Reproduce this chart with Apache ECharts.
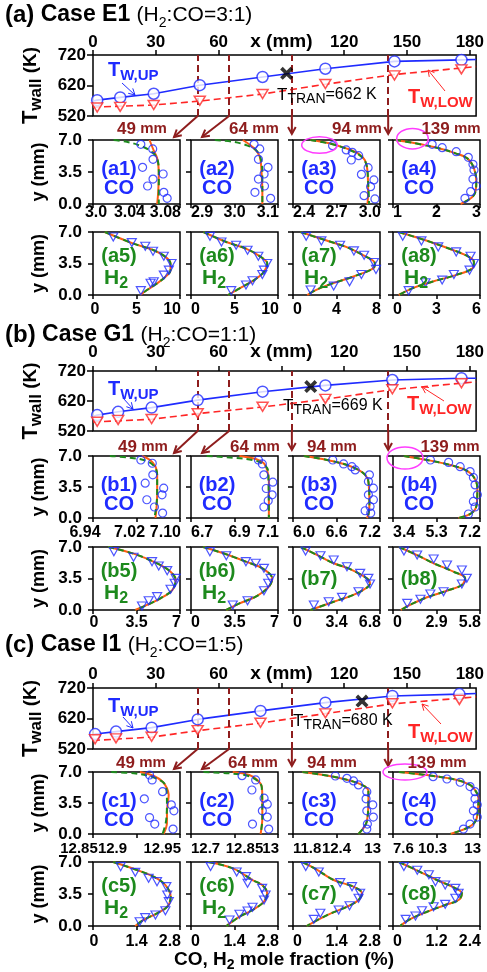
<!DOCTYPE html>
<html><head><meta charset="utf-8">
<script src="https://cdn.jsdelivr.net/npm/echarts@6/dist/echarts.min.js"></script>
<style>html,body{margin:0;padding:0;background:#fff}#c{width:487px;height:972px}</style>
</head><body><div id="c"></div>
<script>
// ================= DATA =================
const wallTicks = [0,30,60,90,120,150,180];
const wallTempTicks = [520,620,720];
const sliceX = [50,65,95,141];
const sliceLabels = ['49mm','64mm','94mm','139mm'];
const yTicks = [0,3.5,7];
const yTickLabels = ['0.0','3.5','7.0'];

// ---- (a) Case E1 wall temperature ----
const aUpX = [2,13,29,51,81,111,144,176];
const aUpT = [572,581,593,621,648,675,699,704];
const aUpLine = [[0,569],[2,572],[13,581],[29,593],[51,621],[81,648],[111,675],[144,699],[176,704],[183,705]];
const aLowX = [2,13,29,51,81,111,144,176];
const aLowT = [548,550,556,570,592,625,653,673];
const aLowLine = [[0,549],[29,556],[51,569],[81,592],[111,624],[144,656],[183,682]];
const aTran = [92.5,660];
// ---- (b) Case G1 ----
const bUpX = [2,12,28,50,81,111,143,176];
const bUpT = [573,584,598,623,651,672,690,696];
const bUpLine = [[0,568],[2,573],[12,584],[28,598],[50,623],[81,651],[111,672],[143,690],[176,696],[183,696]];
const bLowX = [2,12,28,50,81,111,143,176];
const bLowT = [551,557,560,579,601,627,659,679];
const bLowLine = [[0,550],[28,559],[50,578],[81,600],[111,626],[143,658],[183,684]];
const bTran = [104,668];
// ---- (c) Case I1 ----
const cUpX = [1,11,28,50,80,111,143,175];
const cUpT = [569,577,590,617,645,672,694,700];
const cUpLine = [[0,565],[1,569],[11,577],[28,590],[50,617],[80,645],[111,672],[143,694],[175,700],[183,702]];
const cLowX = [1,11,28,50,80,111,143,175];
const cLowT = [552,555,560,582,606,637,670,681];
const cLowLine = [[0,548],[28,559],[50,580],[80,605],[111,636],[143,668],[183,691]];
const cTran = [128.5,677];

// ---- profile tick labels ----
const a1Ticks=['3.0','3.04','3.08'], a2Ticks=['2.9','3.0','3.1'], a3Ticks=['2.4','2.7','3.0'], a4Ticks=['1','2','3'];
const a5Ticks=['0','5','10'], a6Ticks=['0','5','10'], a7Ticks=['0','4','8'], a8Ticks=['0','3','6'];
const b1Ticks=['6.94','7.02','7.10'], b2Ticks=['6.7','6.9','7.1'], b3Ticks=['6.0','6.6','7.2'], b4Ticks=['3.4','5.3','7.2'];
const b5Ticks=['0','3.5','7'], b6Ticks=['0','3.5','7'], b7Ticks=['0','3.4','6.8'], b8Ticks=['0','2.9','5.8'];
const c1Ticks=['12.85','12.9','12.95'], c2Ticks=['12.7','12.85','13'], c3Ticks=['11.8','12.4','13'], c4Ticks=['7.6','10.3','13'];
const c5Ticks=['0','1.4','2.8'], c6Ticks=['0','1.4','2.8'], c7Ticks=['0','1.4','2.8'], c8Ticks=['0','1.2','2.4'];

// ---- (a) profiles: [mole fraction %, y mm] ----
const a1Model=[[3.052,7],[3.056,5.8],[3.059,5.0],[3.0605,3.5],[3.060,1.4],[3.059,0]];
const a1Green=[[3.019,7],[3.031,6.8],[3.043,6.4],[3.054,5.7],[3.059,5.0],[3.0605,3.5],[3.0605,0]];
const a1Pts=[[3.044,6.53],[3.0549,6.02],[3.0552,4.89],[3.0456,4.01],[3.0645,3.28],[3.0552,2.73],[3.0502,1.97],[3.0651,1.28],[3.0682,0.62]];
const a2Model=[[3.019,7],[3.045,6.09],[3.058,5.18],[3.062,3.54],[3.064,1.35],[3.064,0]];
const a2Green=[[2.955,7],[2.996,6.82],[3.026,6.45],[3.049,5.91],[3.060,4.99],[3.064,3.54],[3.064,0]];
const a2Pts=[[3.045,6.53],[3.058,6.02],[3.055,4.89],[3.077,4.01],[3.068,3.28],[3.055,2.73],[3.069,1.97],[3.047,1.28],[3.083,0.62]];
const a3Model=[[2.521,7],[2.650,6.64],[2.767,6.09],[2.848,5.54],[2.895,4.81],[2.914,3.54],[2.918,1.35],[2.914,0]];
const a3Green=[[2.521,7],[2.673,6.53],[2.790,5.91],[2.872,5.18],[2.907,4.27],[2.918,2.44],[2.925,0]];
const a3Pts=[[2.673,6.38],[2.767,5.91],[2.809,5.65],[2.853,5.29],[2.802,4.81],[2.918,3.97],[2.872,3.24],[2.958,2.63],[2.935,1.90],[2.890,0.91],[2.965,0.55]];
const a4Model=[[1.054,7],[1.515,6.64],[2.054,6.09],[2.438,5.54],[2.708,4.99],[2.862,3.90],[2.915,2.44],[2.862,0.98],[2.554,0]];
const a4Pts=[[1.900,6.53],[2.131,6.16],[2.454,5.72],[2.731,5.10],[2.838,4.34],[2.862,3.72],[2.838,2.73],[2.915,1.97],[2.785,1.35],[2.654,0.62]];
const a5Model=[[1.36,7],[4.65,5.71],[6.98,4.97],[8.33,4.24],[8.91,3.5],[8.91,2.76],[8.33,2.03],[7.36,1.29],[6.20,0.55],[5.43,0]];
const a5Pts=[[2.33,6.45],[4.46,5.82],[6.01,5.42],[6.90,4.86],[8.14,4.31],[9.03,3.5],[8.72,2.76],[8.14,2.21],[6.98,1.47],[6.62,1.30],[5.50,0.48]];
const a6Model=[[1.43,7],[4.06,5.89],[6.32,5.16],[8.01,4.24],[8.76,3.5],[8.38,2.58],[7.26,1.66],[5.94,0.92],[4.25,0]];
const a6Pts=[[2.18,6.52],[3.50,5.89],[5.19,5.53],[6.50,4.97],[7.74,4.31],[8.76,3.5],[8.38,2.76],[8.20,2.28],[7.07,1.58],[6.32,1.11],[4.62,0.48]];
const a7Model=[[0.68,7],[3.02,6.08],[4.89,5.34],[6.44,4.42],[7.53,3.5],[7.38,2.95],[5.51,2.03],[3.64,1.29],[2.09,0.55],[1.31,0]];
const a7Pts=[[1.21,6.52],[2.61,6.01],[4.33,5.53],[5.60,4.90],[6.54,4.42],[7.44,3.61],[7.63,2.84],[6.29,2.28],[5.20,1.47],[3.74,0.99],[1.62,0.55]];
const a8Model=[[0.39,7],[2.24,6.08],[3.85,5.16],[5.01,4.42],[5.58,3.68],[5.47,2.95],[4.32,2.21],[2.70,1.47],[1.32,0.74],[0.39,0]];
const a8Pts=[[0.67,6.52],[1.96,6.01],[3.12,5.34],[4.36,4.79],[5.35,4.31],[5.58,3.5],[5.28,2.76],[4.20,2.28],[3.39,1.66],[2.24,1.36],[1.08,0.48]];
// ---- (b) profiles ----
const b1Model=[[7.030,7],[7.045,6.55],[7.055,5.80],[7.058,4.87],[7.058,2.62],[7.055,0]];
const b1Green=[[6.971,7],[7.008,6.81],[7.039,6.44],[7.053,5.80],[7.058,4.87],[7.058,2.62],[7.053,0]];
const b1Pts=[[7.028,6.55],[7.049,6.18],[7.050,4.87],[7.036,3.93],[7.070,3.37],[7.067,2.62],[7.039,2.06],[7.053,1.24],[7.068,0.56]];
const b2Model=[[6.923,7],[6.998,6.66],[7.035,6.18],[7.050,5.43],[7.058,4.12],[7.058,0]];
const b2Green=[[6.772,7],[6.892,6.81],[6.983,6.55],[7.035,6.07],[7.055,5.24],[7.058,0]];
const b2Pts=[[7.010,6.55],[7.028,6.10],[7.035,4.87],[7.076,4.04],[7.046,3.33],[7.073,2.62],[7.055,1.95],[7.035,1.24]];
const b3Model=[[6.151,7],[6.470,6.55],[6.744,5.99],[6.903,5.43],[6.995,4.87],[7.040,4.12],[7.054,1.50],[7.040,0.37],[7.017,0]];
const b3Pts=[[6.548,6.55],[6.698,6.10],[6.812,5.80],[6.858,5.43],[7.054,4.87],[7.040,4.12],[7.109,3.37],[7.040,2.62],[7.109,2.06],[7.063,1.31],[6.995,0.82],[7.072,0.56]];
const b4Model=[[3.877,7],[4.888,6.55],[5.900,5.99],[6.550,5.43],[6.911,4.68],[7.085,3.37],[7.056,1.50],[6.839,0.56],[6.261,0]];
const b4Pts=[[5.033,6.55],[5.828,6.28],[6.333,5.80],[6.767,5.24],[6.911,4.57],[6.984,3.74],[7.085,2.62],[6.911,1.87],[6.984,1.24],[6.695,0.45]];
const b5Model=[[1.22,7],[3.26,6.26],[5.16,5.18],[6.24,4.26],[6.65,3.34],[6.38,2.22],[5.43,1.30],[4.35,0.56],[3.39,0]];
const b5Pts=[[1.68,6.48],[3.26,5.86],[4.75,5.37],[5.29,4.89],[5.97,4.37],[6.65,3.52],[6.57,2.97],[6.24,2.30],[5.16,1.48],[4.48,1.03],[3.94,0.44]];
const b6Model=[[0.97,7],[2.6,6.3],[4.42,5.37],[5.74,4.63],[6.53,3.52],[6.27,2.59],[5.21,1.48],[3.90,0.74],[2.84,0]];
const b6Pts=[[1.52,6.48],[2.84,6.03],[4.42,5.37],[5.21,5.19],[5.87,4.63],[6.40,3.52],[6.21,2.97],[5.87,2.14],[4.55,1.03],[3.36,0.56]];
const b7Model=[[0.60,7],[1.9,6.1],[3.18,5.19],[4.34,4.63],[5.77,3.52],[6.02,2.97],[4.99,1.85],[3.18,0.92],[1.37,0]];
const b7Pts=[[0.98,6.56],[2.15,6.03],[3.18,5.56],[4.22,4.81],[5.25,4.07],[5.89,3.52],[6.02,2.89],[5.12,2.03],[3.83,1.41],[2.79,0.92],[1.63,0.56]];
const b8Model=[[0.40,7],[1.6,6.1],[2.71,5.19],[4.03,4.26],[4.81,3.52],[4.59,2.78],[3.60,2.14],[2.27,1.41],[1.3,0.7],[0.51,0]];
const b8Pts=[[0.73,6.56],[1.61,6.11],[2.71,5.67],[3.60,5.00],[4.59,4.44],[4.92,3.52],[4.59,2.89],[3.37,2.03],[2.49,1.78],[1.83,1.19],[0.95,0.74]];
// ---- (c) profiles ----
const c1Model=[[12.904,7],[12.920,6.55],[12.930,5.91],[12.935,5.17],[12.937,4.42],[12.935,2.54],[12.935,1.24],[12.931,0]];
const c1Green=[[12.871,7],[12.897,6.85],[12.914,6.55],[12.928,6.02],[12.934,5.35],[12.935,3.6],[12.934,1.47],[12.930,0]];
const c1Pts=[[12.915,6.66],[12.918,6.10],[12.930,4.78],[12.909,3.97],[12.940,3.29],[12.943,2.62],[12.915,1.86],[12.921,1.12],[12.942,0.56]];
const c2Model=[[12.844,7],[12.901,6.66],[12.929,6.10],[12.944,5.35],[12.946,4.05],[12.946,1.80],[12.940,0]];
const c2Green=[[12.743,7],[12.833,6.85],[12.895,6.58],[12.929,6.02],[12.944,5.28],[12.946,1.80],[12.940,0]];
const c2Pts=[[12.876,6.58],[12.923,6.10],[12.910,4.97],[12.952,4.05],[12.963,3.37],[12.946,2.62],[12.963,1.91],[12.912,1.12],[12.968,0.56]];
const c3Model=[[11.929,7],[12.361,6.47],[12.635,5.91],[12.795,5.35],[12.840,4.78],[12.840,4.05],[12.818,1.41],[12.703,0]];
const c3Pts=[[12.384,6.55],[12.544,6.29],[12.635,5.99],[12.703,5.54],[12.818,4.78],[12.808,3.97],[12.900,3.29],[12.818,2.62],[12.908,1.91],[12.826,1.12],[12.818,0.56]];
const c4Model=[[7.97,7],[10.12,6.55],[11.57,6.10],[12.38,5.54],[12.69,4.97],[12.90,4.05],[12.80,1.80],[12.38,0.85],[11.15,0]];
const c4Pts=[[10.09,6.47],[10.95,6.21],[11.77,5.84],[12.38,5.35],[12.69,4.78],[12.69,3.97],[12.83,3.29],[12.59,2.62],[12.83,1.91],[12.38,1.12],[11.97,0.56]];
const c5Model=[[0.65,7],[1.41,6.13],[1.95,5.39],[2.33,4.48],[2.50,3.21],[2.39,2.11],[2.06,1.39],[1.63,0.66],[1.36,0]];
const c5Pts=[[0.89,6.49],[1.36,5.87],[1.79,5.22],[2.06,4.85],[2.36,4.30],[2.39,3.39],[2.44,2.66],[2.33,1.67],[2.01,1.20],[1.68,0.91],[1.50,0.47]];
const c6Model=[[0.56,7],[1.35,6.3],[1.98,5.03],[2.29,4.48],[2.45,3.58],[2.35,2.66],[1.98,1.75],[1.56,1.02],[1.14,0]];
const c6Pts=[[0.63,6.5],[1.47,5.9],[1.77,5.4],[1.82,4.67],[2.29,4.12],[2.40,3.39],[2.35,2.84],[1.98,2.05],[1.82,1.64],[1.56,1.28],[1.24,0.66]];
const c7Model=[[0.30,7],[0.75,6.2],[1.31,5.03],[1.95,4.30],[2.22,3.58],[2.11,2.84],[1.74,2.11],[1.10,1.20],[0.44,0]];
const c7Pts=[[0.41,6.5],[0.83,5.9],[1.52,4.74],[1.90,4.30],[2.16,3.58],[2.11,3.03],[1.82,2.22],[1.47,1.75],[0.88,1.39],[0.67,0.73]];
const c8Model=[[0.16,7],[0.6,6.2],[1.21,5.03],[1.63,4.30],[1.90,3.58],[1.81,2.84],[1.44,2.30],[0.94,1.56],[0.45,0.7],[0.2,0]];
const c8Pts=[[0.30,6.5],[0.67,6.1],[0.99,5.6],[1.17,4.85],[1.44,4.48],[1.72,4.12],[1.81,3.58],[1.72,3.03],[1.44,2.37],[1.12,2.11],[0.80,1.67],[0.62,1.09],[0.35,0.73]];

// ================= LAYOUT / STYLE =================
const FF = '"Liberation Sans", Arial, Helvetica, sans-serif';
const COL = {blue:'#1f2bff', red:'#ff2626', dred:'#8e1d1d', green:'#1d8a1d', orange:'#ff5c14', mag:'#ff3cff', black:'#000'};
const colLeft = [93,191,293,393], colW = 87;
const zip = (xs, ys) => xs.map((x,i)=>[x, ys[i]]);

const SECTIONS = [
 {tag:'a', caseName:'Case E1', ratio:'3:1', titleY:15, top:55, h:61, xMargin:4, tran:'662',
  up:aUpLine, upPts:zip(aUpX,aUpT), low:aLowLine, lowPts:zip(aLowX,aLowT), cross:aTran,
  rowCO:[140,64], rowH2:[232,63], labOff:[9,15], labFs:[16,16], minOff0:[3,2],
  txtUp:[108,70], txtTran:[277,95], txtLow:[408,97],
  arUp:[[122,83],[135,95]], arLow:[[445,91],[428,70]],
  mmY:129, mmX:[142,254,357,451],
  midShift:[-7,0,0,0,0,0,0,0],
  panels:[[a1Ticks,a1Model,a1Green,a1Pts],[a2Ticks,a2Model,a2Green,a2Pts],[a3Ticks,a3Model,a3Green,a3Pts],[a4Ticks,a4Model,null,a4Pts],
          [a5Ticks,a5Model,null,a5Pts],[a6Ticks,a6Model,null,a6Pts],[a7Ticks,a7Model,null,a7Pts],[a8Ticks,a8Model,null,a8Pts]],
  h2Label:[true,true,true,true],
  ellipses:[[319.5,145,17.8,8.3],[412.5,138.7,15.8,10.3]]},
 {tag:'b', caseName:'Case G1', ratio:'1:1', titleY:335, top:371, h:60, xMargin:10, tran:'669',
  up:bUpLine, upPts:zip(bUpX,bUpT), low:bLowLine, lowPts:zip(bLowX,bLowT), cross:bTran,
  rowCO:[456,62], rowH2:[547,63], labOff:[15,13], labFs:[16,16], minOff0:[-8,1],
  txtUp:[108,389], txtTran:[283,406], txtLow:[407,404],
  arUp:[[123,398],[133,409]], arLow:[[444,401],[422,387]],
  mmY:447, mmX:[143,255,332,450],
  midShift:[-7,5,0,0,0,0,0,0],
  panels:[[b1Ticks,b1Model,b1Green,b1Pts],[b2Ticks,b2Model,b2Green,b2Pts],[b3Ticks,b3Model,null,b3Pts],[b4Ticks,b4Model,null,b4Pts],
          [b5Ticks,b5Model,null,b5Pts],[b6Ticks,b6Model,null,b6Pts],[b7Ticks,b7Model,null,b7Pts],[b8Ticks,b8Model,null,b8Pts]],
  h2Label:[true,true,false,false],
  ellipses:[[405,458,18,11]]},
 {tag:'c', caseName:'Case I1', ratio:'1:5', titleY:645, top:688, h:61, xMargin:5, tran:'680',
  up:cUpLine, upPts:zip(cUpX,cUpT), low:cLowLine, lowPts:zip(cLowX,cLowT), cross:cTran,
  rowCO:[772,62], rowH2:[862,64], labOff:[15,16], labFs:[15,16], minOff0:[-14,1],
  txtUp:[108,706], txtTran:[293,721], txtLow:[408,732],
  arUp:[[123,717],[133,728]], arLow:[[441,724],[422,704]],
  mmY:763, mmX:[141,253,332,437],
  midShift:[-24,10,0,-4,0,0,0,0],
  panels:[[c1Ticks,c1Model,c1Green,c1Pts],[c2Ticks,c2Model,c2Green,c2Pts],[c3Ticks,c3Model,null,c3Pts],[c4Ticks,c4Model,null,c4Pts],
          [c5Ticks,c5Model,null,c5Pts],[c6Ticks,c6Model,null,c6Pts],[c7Ticks,c7Model,null,c7Pts],[c8Ticks,c8Model,null,c8Pts]],
  h2Label:[true,true,false,false],
  ellipses:[[405,772,22,8]]}
];

const grids=[], xAxes=[], yAxes=[], series=[], panelInfo=[];
const lab = (o)=>Object.assign({fontFamily:FF, fontWeight:'bold', fontSize:16, color:'#000', hideOverlap:false, showMinLabel:true, showMaxLabel:true}, o);
function addGrid(left, top, width, height){
  grids.push({left, top, width, height, show:true, borderColor:'#000', borderWidth:1.5, backgroundColor:'transparent', containLabel:false});
  return grids.length-1;
}
function nearestIdx(vals, v){ let bi=0,bd=1e9; vals.forEach((t,i)=>{const d=Math.abs(t-v); if(d<bd){bd=d;bi=i;}}); return bi; }

SECTIONS.forEach(s=>{
  const gi = addGrid(93, s.top, 390, s.h);
  s.gTop = gi;
  xAxes.push({gridIndex:gi, type:'value', position:'top', min:0, max:183,
    axisLine:{show:false}, splitLine:{show:false},
    axisTick:{show:true, customValues:wallTicks, length:5, lineStyle:{color:'#000', width:1.5}},
    axisLabel:lab({customValues:wallTicks, fontSize:17, margin:s.xMargin,
      formatter:v=> v===90 ? '{m|x (mm)}' : String(v), rich:{m:{fontFamily:FF, fontWeight:'bold', fontSize:19, color:'#000'}}})});
  yAxes.push({gridIndex:gi, type:'value', min:520, max:720,
    axisLine:{show:false}, splitLine:{show:false},
    axisTick:{show:true, customValues:wallTempTicks, length:6, lineStyle:{color:'#000', width:1.5}},
    axisLabel:lab({customValues:wallTempTicks, fontSize:17, margin:7})});
  series.push({type:'line', xAxisIndex:gi, yAxisIndex:gi, data:s.up, symbol:'none', silent:true,
    lineStyle:{color:COL.blue, width:1.6}, z:3});
  series.push({type:'line', xAxisIndex:gi, yAxisIndex:gi, data:s.low, symbol:'none', silent:true,
    lineStyle:{color:COL.red, width:1.6, type:[7,4]}, z:3,
    markLine:{silent:true, symbol:['none','none'], label:{show:false}, animation:false,
      lineStyle:{color:COL.dred, width:2, type:[7,4]}, data:sliceX.map(v=>({xAxis:v}))}});
  series.push({type:'scatter', xAxisIndex:gi, yAxisIndex:gi, data:s.upPts, symbol:'circle', symbolSize:11, silent:true,
    itemStyle:{color:'#fff', borderColor:COL.blue, borderWidth:1.5}, z:5});
  series.push({type:'scatter', xAxisIndex:gi, yAxisIndex:gi, data:s.lowPts, symbol:'triangle', symbolRotate:180, symbolSize:[11,9], silent:true,
    itemStyle:{color:'#fff', borderColor:COL.red, borderWidth:1.5}, z:5});
  series.push({type:'scatter', xAxisIndex:gi, yAxisIndex:gi, data:[s.cross], silent:true,
    symbol:'path://M2,0L5,3L8,0L10,2L7,5L10,8L8,10L5,7L2,10L0,8L3,5L0,2Z', symbolSize:13,
    itemStyle:{color:'#000'}, z:6});

  s.panels.forEach((p,k)=>{
    const [ticks, model, green, pts] = p;
    const col = k%4, isCO = k<4, ri = isCO ? 0 : 1;
    const row = isCO ? s.rowCO : s.rowH2;
    const g = addGrid(colLeft[col], row[0], colW, row[1]);
    const vals = ticks.map(Number);
    panelInfo.push({g, vals, ticks, col, bottom: row[0]+row[1], off: s.labOff[ri], fs: s.labFs[ri], sh: s.midShift[k], minOff: s.minOff0[ri]});
    xAxes.push({gridIndex:g, type:'value', min:vals[0], max:vals[vals.length-1],
      axisLine:{show:false}, splitLine:{show:false},
      axisTick:{show:true, customValues:vals, length:4, lineStyle:{color:'#000', width:1.5}},
      axisLabel:{show:false}});
    yAxes.push({gridIndex:g, type:'value', min:0, max:7,
      axisLine:{show:false}, splitLine:{show:false},
      axisTick:{show:true, customValues:yTicks, length:5, lineStyle:{color:'#000', width:1.5}},
      axisLabel:lab({show: col===0, customValues:yTicks, fontSize:17, margin:11,
        formatter:v=>yTickLabels[nearestIdx(yTicks, v)]})});
    series.push({type:'line', xAxisIndex:g, yAxisIndex:g, data:model, smooth:0.35, symbol:'none', silent:true,
      lineStyle:{color:COL.orange, width:2}, z:3});
    series.push({type:'line', xAxisIndex:g, yAxisIndex:g, data:green||model, smooth:0.35, symbol:'none', silent:true,
      lineStyle:{color:COL.green, width:2, type:[6,4]}, z:4});
    series.push({type:'scatter', xAxisIndex:g, yAxisIndex:g, data:pts, silent:true,
      symbol: isCO ? 'circle' : 'triangle', symbolRotate: isCO ? 0 : 180, symbolSize: isCO ? 8 : [9,8],
      itemStyle:{color:'rgba(255,255,255,0)', borderColor:COL.blue, borderWidth:1.2}, z:5});
  });
});

const chart = echarts.init(document.getElementById('c'));
chart.setOption({animation:false, grid:grids, xAxis:xAxes, yAxis:yAxes, series});

// ================= ANNOTATIONS =================
const gr = [];
function tok(size, weight, color, sub){
  return {fontSize:size, fontWeight:weight, fontFamily:FF, fill:color, color:color,
    lineHeight: sub ? size : size+6, verticalAlign: sub ? 'bottom' : 'middle'};
}
function rtext(x, y, text, rich, opt){
  return Object.assign({type:'text', x, y, silent:true, z:100,
    style:{text, rich, x:0, y:0, align:'left', verticalAlign:'middle', textAlign:'left', textVerticalAlign:'middle', fontFamily:FF}}, opt||{});
}
function ctext(x, y, text, rich, rot){
  const t = rtext(x, y, text, rich, rot ? {rotation:rot} : null);
  t.style.align='center'; t.style.textAlign='center';
  return t;
}
function arrow(p1, p2, color, w, head){
  const a = Math.atan2(p2[1]-p1[1], p2[0]-p1[0]), h=head, s=0.5;
  return [
    {type:'polyline', silent:true, z:90, shape:{points:[p1,p2]}, style:{stroke:color, lineWidth:w, fill:'none'}},
    {type:'polyline', silent:true, z:90, shape:{points:[[p2[0]-h*Math.cos(a-s), p2[1]-h*Math.sin(a-s)], p2, [p2[0]-h*Math.cos(a+s), p2[1]-h*Math.sin(a+s)]]},
      style:{stroke:color, lineWidth:w, fill:'none'}}
  ];
}

// profile x tick labels, placed at the axes' tick positions
panelInfo.forEach(info=>{
  const n = info.vals.length;
  info.vals.forEach((v,i)=>{
    const px = chart.convertToPixel({xAxisIndex:info.g, yAxisIndex:info.g}, [v, 0])[0];
    let x = px, align = 'center';
    if (i===0) { if (info.col===0) x = px + info.minOff; else align = 'left'; }
    else if (i===n-1) { align = 'right'; x = px + 1; }
    else x = px + info.sh;
    gr.push({type:'text', x, y: info.bottom + info.off, silent:true, z:100,
      style:{text: info.ticks[i], x:0, y:0, fontFamily:FF, fontWeight:'bold', fontSize:info.fs, fill:'#000',
        align, textAlign:align, verticalAlign:'middle', textVerticalAlign:'middle'}});
  });
});

SECTIONS.forEach(s=>{
  gr.push(rtext(5, s.titleY, '{p|('+s.tag+')}{c| '+s.caseName+' }{n|(H}{s|2}{n|:CO=' + s.ratio + ')}',
    {p:tok(24,'bold','#000'), c:tok(23,'bold','#000'), n:tok(21,'normal','#000'), s:tok(14,'normal','#000',true)}));
  gr.push(ctext(31, s.top + s.h/2, '{t|T}{s|wall}{k| (K)}',
    {t:tok(22,'bold','#000'), s:tok(17,'bold','#000',true), k:tok(19,'bold','#000')}, Math.PI/2));
  [s.rowCO, s.rowH2].forEach(r=>{
    gr.push(ctext(39, r[0] + r[1]/2, '{a|y (mm)}', {a:tok(18,'bold','#000')}, Math.PI/2));
  });
  gr.push(rtext(s.txtUp[0], s.txtUp[1], '{t|T}{s|W,UP}', {t:tok(20,'bold',COL.blue), s:tok(15,'bold',COL.blue,true)}));
  gr.push(rtext(s.txtLow[0], s.txtLow[1], '{t|T}{s|W,LOW}', {t:tok(20,'bold',COL.red), s:tok(15,'bold',COL.red,true)}));
  gr.push(rtext(s.txtTran[0], s.txtTran[1], '{t|T}{s|TRAN}{r|=' + s.tran + ' K}',
    {t:tok(17,'normal','#000'), s:tok(14,'normal','#000',true), r:tok(16,'normal','#000')}));
  gr.push(...arrow(s.arUp[0], s.arUp[1], COL.blue, 1, 7));
  gr.push(...arrow(s.arLow[0], s.arLow[1], COL.red, 1, 7));
  sliceX.forEach((xv,i)=>{
    const p = chart.convertToPixel({xAxisIndex:s.gTop, yAxisIndex:s.gTop}, [xv, 520]);
    let t;
    if (i===0) t = [colLeft[0]+colW-6, s.rowCO[0]-3];
    else if (i===1) t = [colLeft[1]+11, s.rowCO[0]-3];
    else t = [p[0], s.rowCO[0]-6];
    gr.push(...arrow(p, t, COL.dred, 2, 8));
    gr.push(ctext(s.mmX[i], s.mmY, '{a|' + sliceLabels[i].replace('mm','') + '}{b| mm}', {a:tok(17,'bold',COL.dred), b:tok(15,'bold',COL.dred)}));
  });
  for (let k=0;k<8;k++){
    const col=k%4, isCO=k<4, row=isCO?s.rowCO:s.rowH2;
    const cx = colLeft[col] + 26;
    const name = '(' + s.tag + (k+1) + ')';
    if (isCO){
      gr.push(ctext(cx, row[0]+29, '{a|'+name+'}', {a:tok(20,'bold',COL.blue)}));
      gr.push(ctext(cx, row[0]+48, '{a|CO}', {a:tok(20,'bold',COL.blue)}));
    } else if (s.h2Label[col]) {
      gr.push(ctext(cx, row[0]+24, '{a|'+name+'}', {a:tok(20,'bold',COL.green)}));
      gr.push(ctext(cx-3, row[0]+46, '{a|H}{s|2}', {a:tok(21,'bold',COL.green), s:tok(16,'bold',COL.green,true)}));
    } else {
      gr.push(ctext(cx, row[0]+32, '{a|'+name+'}', {a:tok(20,'bold',COL.green)}));
    }
  }
  s.ellipses.forEach(e=>{
    gr.push({type:'ellipse', silent:true, z:95, shape:{cx:e[0], cy:e[1], rx:e[2], ry:e[3]}, style:{stroke:COL.mag, lineWidth:1.5, fill:'none'}});
  });
});
gr.push(ctext(284, 960, '{n|CO, H}{s|2}{n| mole fraction (%)}', {n:tok(19,'bold','#000'), s:tok(14,'bold','#000',true)}));

chart.setOption({graphic:gr});
</script></body></html>
